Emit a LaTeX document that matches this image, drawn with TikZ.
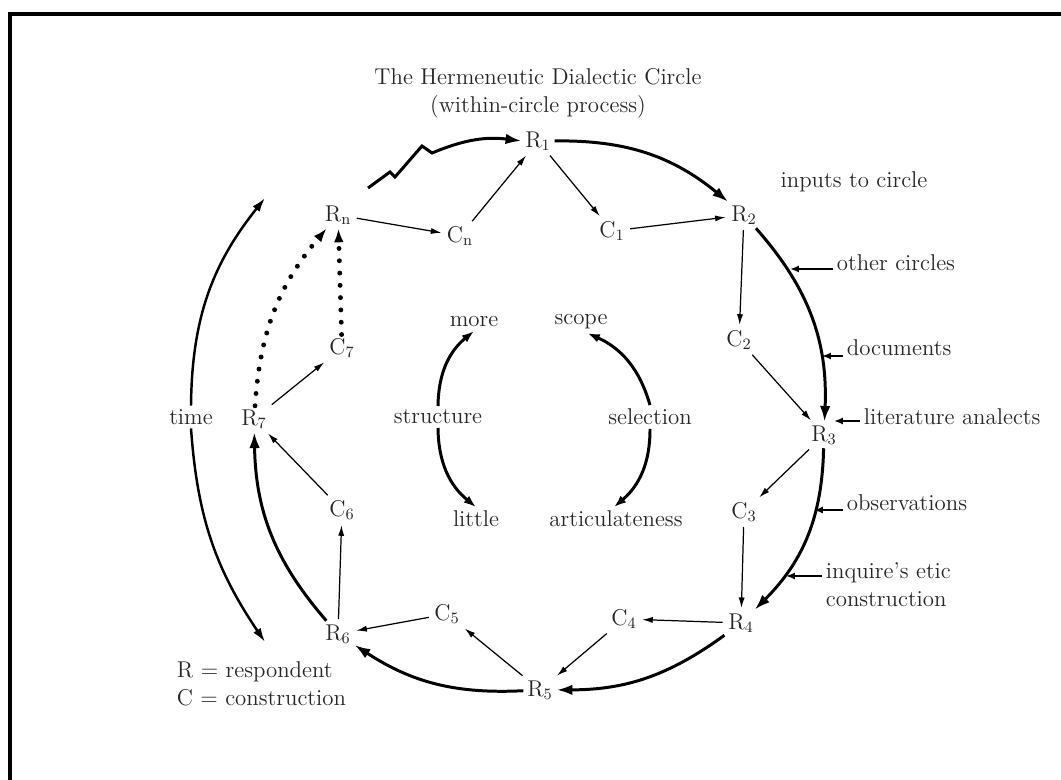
\documentclass[tikz,border=0pt]{standalone}
\usepackage{tikz}
\usetikzlibrary{arrows, arrows.meta, positioning}
\tikzset{
  lbl/.style={font=\fontsize{13}{16}\selectfont, inner sep=2pt, text=black!85},
  cycarc/.style={line width=1.7pt, ->, >={Latex[length=9pt,width=6pt]}},
  link/.style={line width=0.7pt, ->, >={Latex[length=6pt,width=3.5pt]},
    shorten >=1pt, shorten <=1pt},
  dotlink/.style={line width=2.8pt, dash pattern=on 0pt off 7pt,
    line cap=round, ->, >={Latex[length=8pt,width=5.5pt]}},
  feed/.style={line width=1pt, ->, >={Latex[length=5pt,width=4pt]}},
  timearc/.style={line width=1.4pt, ->, >={Latex[length=8pt,width=5pt]}},
  innerarc/.style={line width=1.7pt, ->, >={Latex[length=7pt,width=5pt]}}
}
\begin{document}
\begin{tikzpicture}[x=0.02cm, y=0.02cm]
\useasboundingbox (0,0) rectangle (1061,-780);
% frame
\draw[line width=0.08cm] (10,-780) -- (10,-14) -- (1061,-14);

\node[lbl, align=center] (title) at (538,-93)
  {The Hermeneutic Dialectic Circle\\(within-circle process)};

% respondents and constructions
\node[lbl] (r1) at (538,-141) {R$_1$};
\node[lbl] (c1) at (612,-231) {C$_1$};
\node[lbl] (r2) at (744,-215) {R$_2$};
\node[lbl] (c2) at (739,-340) {C$_2$};
\node[lbl] (r3) at (824,-435) {R$_3$};
\node[lbl] (c3) at (744,-512) {C$_3$};
\node[lbl] (r4) at (741,-623) {R$_4$};
\node[lbl] (c4) at (624,-619) {C$_4$};
\node[lbl] (r5) at (540,-690) {R$_5$};
\node[lbl] (c5) at (447,-614) {C$_5$};
\node[lbl] (r6) at (338,-634) {R$_6$};
\node[lbl] (c6) at (342,-510) {C$_6$};
\node[lbl] (r7) at (254,-419) {R$_7$};
\node[lbl] (c7) at (342,-348) {C$_7$};
\node[lbl] (rn) at (338,-215) {R$_\mathrm{n}$};
\node[lbl] (cn) at (460,-236) {C$_\mathrm{n}$};

\node[lbl] (time) at (191,-417) {time};
\coordinate (tup) at (265,-198);
\coordinate (tdn) at (265,-642);
\coordinate (zz) at (368,-188);

% centre
\node[lbl] (more)  at (474,-322) {more};
\node[lbl] (scope) at (581,-322) {scope};
\node[lbl] (struc) at (438,-417) {structure};
\node[lbl] (sel)   at (650,-417) {selection};
\node[lbl] (little) at (476,-519) {little};
\node[lbl] (artic) at (616,-519) {articulateness};

% inputs
\node[lbl] (inputs) at (854,-182) {inputs to circle};
\node[lbl, anchor=west] (oth) at (833,-263) {other circles};
\node[lbl, anchor=west] (docs) at (843,-348) {documents};
\node[lbl, anchor=west] (lit) at (860,-417) {literature analects};
\node[lbl, anchor=west] (obs) at (843,-503) {observations};
\node[lbl, anchor=west, align=left] (inq) at (822,-585)
  {inquire's etic\\construction};
\coordinate (oth-t) at (790,-269);
\coordinate (docs-t) at (822,-356);
\coordinate (lit-t) at (834,-421);
\coordinate (obs-t) at (814,-510);
\coordinate (inq-t) at (786,-576);

\node[lbl, anchor=west, align=left] (legend) at (173,-684)
  {R = respondent\\C = construction};

% outer circle
\draw[cycarc] (zz) -- (390,-172) -- (395,-177) -- (422,-146) -- (432,-153)
  to[bend left=15] (r1.west);
\draw[cycarc] (r1) to[bend left=20] (r2);
\draw[cycarc] (r2) to[bend left=22] (r3);
\draw[cycarc] (r3) to[bend left=22] (r4);
\draw[cycarc] (r4) to[bend left=18] (r5);
\draw[cycarc] (r5) to[bend left=18] (r6);
\draw[cycarc] (r6) to[bend left=20] (r7);
\draw[dotlink] (r7) to[bend left=18] (rn);
\draw[dotlink] (c7) -- (rn);

% thin links
\draw[link] (rn) -- (cn);
\draw[link] (cn) -- (r1);
\draw[link] (r1) -- (c1);
\draw[link] (c1) -- (r2);
\draw[link] (r2) -- (c2);
\draw[link] (c2) -- (r3);
\draw[link] (r3) -- (c3);
\draw[link] (c3) -- (r4);
\draw[link] (r4) -- (c4);
\draw[link] (c4) -- (r5);
\draw[link] (r5) -- (c5);
\draw[link] (c5) -- (r6);
\draw[link] (r6) -- (c6);
\draw[link] (c6) -- (r7);
\draw[link] (r7) -- (c7);

% time
\draw[timearc] (time.north) to[bend left=19] (tup);
\draw[timearc] (time.south) to[bend right=15] (tdn);

% centre arcs
\draw[innerarc] (struc.north) to[bend left=25] (more.south);
\draw[innerarc] (struc.south) to[bend right=25] (little.north);
\draw[innerarc] (sel.north) to[bend right=25] (scope.-60);
\draw[innerarc] (sel.south) to[bend left=25] (artic.100);

% inputs arrows
\draw[feed] (oth.west |- oth-t) -- (oth-t);
\draw[feed] (docs.west |- docs-t) -- (docs-t);
\draw[feed] (lit.west |- lit-t) -- (lit-t);
\draw[feed] (obs.west |- obs-t) -- (obs-t);
\draw[feed] (inq.west |- inq-t) -- (inq-t);
\end{tikzpicture}
\end{document}
